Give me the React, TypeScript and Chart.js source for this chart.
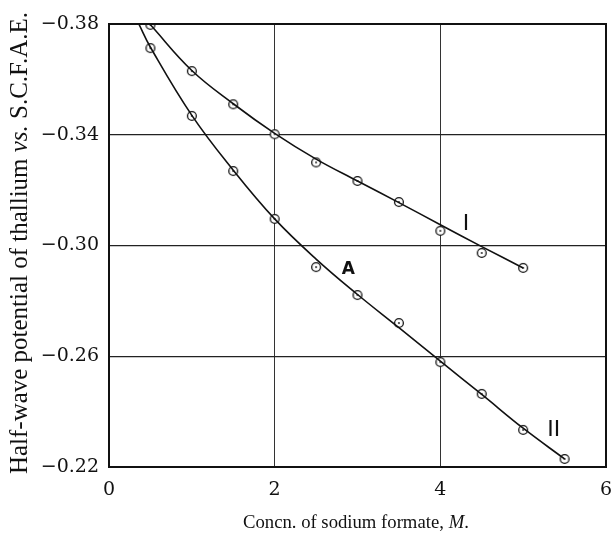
import React, { useEffect, useRef } from "react";
import { Chart, registerables } from "chart.js";

Chart.register(...registerables);

// Measured points (concentration M, half-wave potential V)
const conc1 = [0.5, 1.0, 1.5, 2.0, 2.5, 3.0, 3.5, 4.0, 4.5, 5.0];
const pot1 = [-0.3797, -0.363, -0.351, -0.3402, -0.330, -0.3233, -0.3157, -0.3053, -0.2973, -0.2919];
const conc2 = [0.5, 1.0, 1.5, 2.0, 2.5, 3.0, 3.5, 4.0, 4.5, 5.0, 5.5];
const pot2 = [-0.3713, -0.3468, -0.3269, -0.3096, -0.2922, -0.2821, -0.272, -0.2579, -0.2464, -0.2334, -0.2229];

// Drawn smooth curves
const curve1X = [0.5, 1.0, 1.5, 2.0, 2.5, 3.0, 3.5, 4.0, 4.5, 5.0];
const curve1Y = [-0.3797, -0.3632, -0.3512, -0.3405, -0.3312, -0.3233, -0.3155, -0.3075, -0.2996, -0.2919];
const curve2X = [0.36, 0.5, 1.0, 1.5, 2.0, 2.5, 3.0, 3.5, 4.0, 4.5, 5.0, 5.5];
const curve2Y = [-0.38, -0.3716, -0.347, -0.3272, -0.3096, -0.2951, -0.2823, -0.2703, -0.2582, -0.2462, -0.234, -0.2229];

const xTicks = [0, 2, 4, 6];
const yTicks = [-0.38, -0.34, -0.30, -0.26, -0.22];

// Curve labels (text, x, y in data units)
const curveLabels: [string, number, number][] = [
  ["I", 4.31, -0.3078],
  ["A", 2.89, -0.2912],
  ["II", 5.37, -0.2334],
];

const SERIF = "'Liberation Serif', 'DejaVu Serif', serif";
const TICKFONT = "'DejaVu Serif', serif";

function makeMarker(): HTMLCanvasElement {
  const c = document.createElement("canvas");
  c.width = 12;
  c.height = 12;
  const g = c.getContext("2d")!;
  g.fillStyle = "#fff";
  g.strokeStyle = "#111";
  g.lineWidth = 1.3;
  g.beginPath();
  g.arc(6, 6, 4.4, 0, Math.PI * 2);
  g.fill();
  g.stroke();
  g.fillStyle = "#111";
  g.beginPath();
  g.arc(6, 6, 0.9, 0, Math.PI * 2);
  g.fill();
  return c;
}

function drawRich(ctx: CanvasRenderingContext2D, parts: [string, boolean][], target: number, cx: number, cy: number) {
  const base = 20;
  const w0 = parts.map(([s, it]) => {
    ctx.font = `${it ? "italic " : ""}${base}px ${SERIF}`;
    return ctx.measureText(s).width;
  });
  const t0 = w0.reduce((a, b) => a + b, 0);
  const fs = (base * target) / t0;
  let x = cx - target / 2;
  parts.forEach(([s, it], i) => {
    ctx.font = `${it ? "italic " : ""}${fs}px ${SERIF}`;
    ctx.fillText(s, x, cy);
    x += (w0[i] * fs) / base;
  });
}

const decorPlugin = {
  id: "decor",
  afterDraw(chart: any) {
    const { ctx, chartArea, scales } = chart;
    ctx.save();
    // frame
    ctx.strokeStyle = "#111";
    ctx.lineWidth = 2;
    ctx.strokeRect(chartArea.left, chartArea.top, chartArea.right - chartArea.left, chartArea.bottom - chartArea.top);

    // curve labels
    ctx.fillStyle = "#111";
    ctx.textAlign = "center";
    ctx.textBaseline = "middle";
    for (const [t, x, y] of curveLabels) {
      ctx.font = t === "A" ? "bold 17px 'DejaVu Sans', sans-serif" : "22px 'DejaVu Sans', sans-serif";
      ctx.fillText(t, scales.x.getPixelForValue(x), scales.y.getPixelForValue(y));
    }

    ctx.textAlign = "left";
    ctx.textBaseline = "middle";
    // y-axis title with italic "vs."
    ctx.translate(20, 243);
    ctx.rotate(-Math.PI / 2);
    drawRich(
      ctx,
      [
        ["Half-wave potential of thallium ", false],
        ["vs.", true],
        [" S.C.F.A.E.", false],
      ],
      462,
      0,
      0
    );
    ctx.setTransform(1, 0, 0, 1, 0, 0);

    // x-axis title with italic M
    drawRich(
      ctx,
      [
        ["Concn. of sodium formate, ", false],
        ["M", true],
        [".", false],
      ],
      226,
      356,
      523
    );
    ctx.restore();
  },
};

export default function App() {
  const ref = useRef<HTMLCanvasElement>(null);

  useEffect(() => {
    document.body.style.margin = "0";
    const marker = makeMarker();
    const edge = (v: number, a: number, b: number) => Math.abs(v - a) < 1e-6 || Math.abs(v - b) < 1e-6;
    const chart = new Chart(ref.current!, {
      type: "line",
      data: {
        datasets: [
          {
            data: curve1X.map((x, i) => ({ x, y: curve1Y[i] })),
            borderColor: "#111",
            borderWidth: 1.6,
            pointRadius: 0,
            tension: 0.4,
          },
          {
            data: curve2X.map((x, i) => ({ x, y: curve2Y[i] })),
            borderColor: "#111",
            borderWidth: 1.6,
            pointRadius: 0,
            tension: 0.4,
          },
          {
            data: conc1.map((x, i) => ({ x, y: pot1[i] })),
            showLine: false,
            pointStyle: marker,
          },
          {
            data: conc2.map((x, i) => ({ x, y: pot2[i] })),
            showLine: false,
            pointStyle: marker,
          },
        ],
      },
      options: {
        responsive: false,
        animation: false,
        layout: { padding: { left: 0, right: 4, top: 24, bottom: 0 } },
        plugins: { legend: { display: false }, tooltip: { enabled: false } },
        scales: {
          x: {
            type: "linear",
            min: 0,
            max: 6,
            afterBuildTicks: (s: any) => {
              s.ticks = xTicks.map((v) => ({ value: v }));
            },
            afterFit: (s: any) => {
              s.height = 71;
              s.paddingLeft = 0;
              s.paddingRight = 0;
            },
            ticks: {
              font: { family: TICKFONT, size: 19 },
              color: "#111",
              padding: 12,
              callback: (v: any) => String(v),
            },
            grid: {
              drawTicks: false,
              color: (c: any) => (edge(c.tick.value, 0, 6) ? "rgba(0,0,0,0)" : "#333"),
              lineWidth: 1,
            },
            border: { display: false },
          },
          y: {
            type: "linear",
            min: -0.38,
            max: -0.22,
            reverse: true,
            afterBuildTicks: (s: any) => {
              s.ticks = yTicks.map((v) => ({ value: v }));
            },
            afterFit: (s: any) => {
              s.width = 109;
              s.paddingTop = 0;
              s.paddingBottom = 0;
            },
            ticks: {
              font: { family: TICKFONT, size: 19 },
              color: "#111",
              padding: 10,
              callback: (v: any) => "\u2212" + Math.abs(Number(v)).toFixed(2),
            },
            grid: {
              drawTicks: false,
              color: (c: any) => (edge(c.tick.value, -0.38, -0.22) ? "rgba(0,0,0,0)" : "#222"),
              lineWidth: 1.2,
            },
            border: { display: false },
          },
        },
      },
      plugins: [decorPlugin],
    } as any);
    return () => chart.destroy();
  }, []);

  return (
    <div style={{ position: "absolute", left: 0, top: 0, width: 611, height: 538, background: "#fff" }}>
      <canvas ref={ref} width={611} height={538} />
    </div>
  );
}
